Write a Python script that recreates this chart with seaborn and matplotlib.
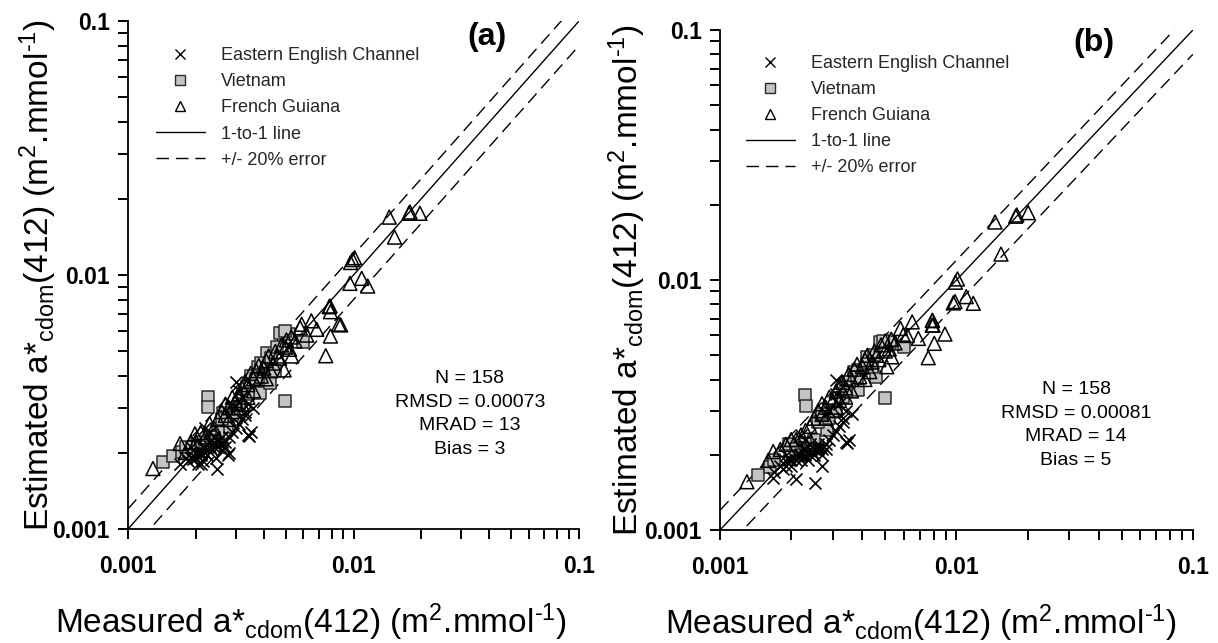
import numpy as np
import matplotlib
matplotlib.use('Agg')
import matplotlib.pyplot as plt
from matplotlib.lines import Line2D
from matplotlib.ticker import LogLocator, NullFormatter
import seaborn as sns

sns.set_theme(style='ticks')
plt.rcParams['font.family'] = ['Liberation Sans', 'DejaVu Sans']
plt.rcParams['mathtext.fontset'] = 'custom'
plt.rcParams['mathtext.rm'] = 'Liberation Sans'
plt.rcParams['mathtext.it'] = 'Liberation Sans:italic'
plt.rcParams['mathtext.bf'] = 'Liberation Sans:bold'

eec_a = [(0.00185, 0.00185), (0.0019, 0.0019), (0.00195, 0.00188), (0.002, 0.0019), (0.002, 0.00198),
         (0.00205, 0.0018), (0.0021, 0.00195), (0.0021, 0.002), (0.00215, 0.0021), (0.0022, 0.002),
         (0.0022, 0.0021), (0.00225, 0.00195), (0.0023, 0.0021), (0.0023, 0.0022), (0.00235, 0.00205),
         (0.0024, 0.0021), (0.0024, 0.0022), (0.00245, 0.0019), (0.0025, 0.0021), (0.0025, 0.0022),
         (0.0026, 0.0022), (0.0026, 0.00205), (0.0027, 0.0021), (0.0027, 0.0022), (0.0028, 0.002),
         (0.0028, 0.0023), (0.00215, 0.00185), (0.0021, 0.0018), (0.00247, 0.00173), (0.00278, 0.00196),
         (0.0029, 0.0024), (0.003, 0.0025), (0.0031, 0.0026), (0.0032, 0.0027), (0.0033, 0.0028),
         (0.0034, 0.00235), (0.00345, 0.00232), (0.0035, 0.0024), (0.0033, 0.0029), (0.0029, 0.0031),
         (0.003, 0.0038), (0.0031, 0.0035), (0.0032, 0.0033), (0.0034, 0.0031), (0.0036, 0.003),
         (0.0023, 0.0024), (0.0022, 0.0025), (0.0019, 0.0021), (0.0017, 0.0018), (0.0018, 0.0019),
         (0.0026, 0.0023), (0.0024, 0.0023)]

vn_a = [(0.00143, 0.00184), (0.00159, 0.00193), (0.00173, 0.00201), (0.00202, 0.00217), (0.0018, 0.0021),
        (0.0021, 0.0022), (0.00226, 0.00332), (0.00227, 0.00301), (0.00265, 0.00285), (0.00274, 0.00253),
        (0.0025, 0.0024), (0.0023, 0.0023), (0.00336, 0.00363), (0.00378, 0.00436), (0.00385, 0.00343),
        (0.00412, 0.00492), (0.00427, 0.00376), (0.0045, 0.0042), (0.00472, 0.00589), (0.00519, 0.00585),
        (0.00495, 0.006), (0.00596, 0.00547), (0.00497, 0.0032), (0.0039, 0.0045), (0.0035, 0.004),
        (0.0037, 0.0039), (0.0043, 0.0047), (0.0046, 0.0052), (0.0029, 0.0028), (0.0031, 0.0031),
        (0.0024, 0.0022), (0.0022, 0.0021), (0.0026, 0.0027), (0.0034, 0.0034)]

fg_a = [(0.00129, 0.00173), (0.0017, 0.00217), (0.00198, 0.00237), (0.0019, 0.0022), (0.0021, 0.0024),
        (0.0022, 0.0023), (0.0023, 0.0026), (0.0025, 0.0027), (0.0026, 0.0029), (0.0027, 0.0028),
        (0.0028, 0.003), (0.0029, 0.0033), (0.003, 0.0032), (0.0031, 0.0034), (0.0032, 0.0036),
        (0.0033, 0.0038), (0.0034, 0.0037), (0.0035, 0.0041), (0.0036, 0.0039), (0.0037, 0.0042),
        (0.0038, 0.0044), (0.004, 0.0043), (0.0041, 0.0046), (0.0042, 0.0048), (0.0044, 0.0045),
        (0.0045, 0.005), (0.0046, 0.0048), (0.0048, 0.0053), (0.005, 0.0052), (0.00504, 0.00555),
        (0.00492, 0.00423), (0.00532, 0.0048), (0.0053, 0.0057), (0.0055, 0.0055), (0.00589, 0.0064),
        (0.00687, 0.00611), (0.00753, 0.00481), (0.0079, 0.00575), (0.00877, 0.00636), (0.0086, 0.0064),
        (0.0079, 0.00717), (0.00787, 0.00755), (0.0078, 0.0075), (0.00964, 0.00927), (0.01087, 0.0097),
        (0.01156, 0.00905), (0.0099, 0.0115), (0.0101, 0.0117), (0.0097, 0.0112), (0.0152, 0.0141),
        (0.0144, 0.0169), (0.0176, 0.0175), (0.0178, 0.0177), (0.0197, 0.0175), (0.0027, 0.0031),
        (0.0031, 0.003), (0.0034, 0.0033), (0.0039, 0.004), (0.0043, 0.0042), (0.0047, 0.0047),
        (0.0028, 0.0027), (0.0024, 0.0025), (0.002, 0.0022), (0.0018, 0.002), (0.0036, 0.0035),
        (0.0032, 0.0031), (0.003, 0.0029), (0.0041, 0.0039), (0.0052, 0.0051), (0.0062, 0.0058),
        (0.0058, 0.0062), (0.0065, 0.0066)]

eec_b = [(0.00168, 0.00162), (0.0018, 0.0018), (0.00185, 0.00175), (0.0019, 0.0018), (0.0019, 0.00188),
         (0.00195, 0.0019), (0.002, 0.0018), (0.002, 0.0019), (0.0021, 0.0019), (0.0021, 0.002),
         (0.00215, 0.002), (0.0022, 0.0019), (0.0022, 0.002), (0.00225, 0.0021), (0.0023, 0.002),
         (0.0023, 0.0021), (0.00235, 0.0019), (0.0024, 0.002), (0.0024, 0.0021), (0.00245, 0.00205),
         (0.0025, 0.002), (0.0025, 0.0021), (0.0026, 0.0021), (0.0026, 0.00215), (0.0027, 0.002),
         (0.0027, 0.0021), (0.0028, 0.0021), (0.0028, 0.0022), (0.0021, 0.0016), (0.00252, 0.00154),
         (0.0027, 0.0018), (0.0029, 0.0023), (0.003, 0.0024), (0.0031, 0.0025), (0.0032, 0.0026),
         (0.0033, 0.0027), (0.0034, 0.00225), (0.00345, 0.00222), (0.0035, 0.0023), (0.0033, 0.0028),
         (0.0029, 0.003), (0.00311, 0.00398), (0.0031, 0.0035), (0.0032, 0.0032), (0.0034, 0.003),
         (0.0036, 0.0029), (0.0023, 0.0023), (0.0022, 0.0024), (0.0019, 0.002), (0.0017, 0.0017),
         (0.0026, 0.0022), (0.0024, 0.0022)]

vn_b = [(0.00145, 0.00166), (0.00162, 0.00179), (0.0017, 0.0019), (0.00195, 0.0022), (0.00214, 0.002),
        (0.0021, 0.0021), (0.00229, 0.00347), (0.00231, 0.00314), (0.00283, 0.00251), (0.0026, 0.0027),
        (0.0025, 0.0023), (0.0023, 0.0022), (0.0033, 0.0034), (0.00384, 0.00437), (0.00385, 0.00363),
        (0.00417, 0.00493), (0.00457, 0.00411), (0.0044, 0.0045), (0.00475, 0.00567), (0.00523, 0.00567),
        (0.0049, 0.0057), (0.006, 0.00538), (0.00498, 0.00336), (0.0037, 0.0043), (0.0035, 0.0039),
        (0.0038, 0.0041), (0.0042, 0.0046), (0.0045, 0.005), (0.0029, 0.0028), (0.0031, 0.003),
        (0.0024, 0.0021), (0.0022, 0.002), (0.0027, 0.0029), (0.0034, 0.0036)]

fg_b = [(0.0013, 0.00156), (0.00168, 0.00206), (0.0019, 0.0022), (0.0018, 0.0021), (0.002, 0.0023),
        (0.0022, 0.0024), (0.0023, 0.0025), (0.0025, 0.0028), (0.0026, 0.003), (0.0027, 0.0029),
        (0.0028, 0.0031), (0.0029, 0.0034), (0.003, 0.0033), (0.0031, 0.0036), (0.0032, 0.0038),
        (0.0033, 0.0039), (0.0034, 0.0037), (0.0035, 0.0042), (0.0036, 0.004), (0.0037, 0.0044),
        (0.0038, 0.0046), (0.004, 0.0045), (0.0041, 0.0048), (0.0042, 0.005), (0.0044, 0.0047),
        (0.0045, 0.0052), (0.0046, 0.005), (0.0048, 0.0055), (0.005, 0.0052), (0.005, 0.0057),
        (0.00507, 0.0045), (0.00532, 0.00493), (0.0053, 0.0058), (0.0055, 0.0056), (0.00596, 0.00603),
        (0.0069, 0.00584), (0.0076, 0.00489), (0.00806, 0.00558), (0.00894, 0.00608), (0.0079, 0.0066),
        (0.00796, 0.0066), (0.00793, 0.00688), (0.0079, 0.0069), (0.00986, 0.0082), (0.011, 0.00858),
        (0.01178, 0.00807), (0.0101, 0.0101), (0.0099, 0.0098), (0.0097, 0.0081), (0.01543, 0.0127),
        (0.01456, 0.01706), (0.018, 0.0182), (0.0178, 0.018), (0.0201, 0.0186), (0.0027, 0.0032),
        (0.0031, 0.0031), (0.0034, 0.0034), (0.0039, 0.0041), (0.0043, 0.0043), (0.0047, 0.0048),
        (0.0028, 0.0028), (0.0024, 0.0026), (0.0021, 0.0023), (0.0016, 0.0019), (0.0036, 0.0036),
        (0.0032, 0.0033), (0.003, 0.003), (0.0041, 0.004), (0.0052, 0.0053), (0.0062, 0.006),
        (0.0058, 0.0064), (0.0065, 0.0068)]

stats_a = 'N = 158\nRMSD = 0.00073\nMRAD = 13\nBias = 3'
stats_b = 'N = 158\nRMSD = 0.00081\nMRAD = 14\nBias = 5'

axis_range = [0.001, 0.1]
tick_vals = [0.001, 0.01, 0.1]
tick_labels = ['0.001', '0.01', '0.1']
err = 0.2

legend_names = ['Eastern English Channel', 'Vietnam', 'French Guiana', '1-to-1 line', '+/- 20% error']
xlab = r'Measured a*$_{\mathrm{cdom}}$(412) (m$^{2}$.mmol$^{\text{-1}}$)'
ylab = r'Estimated a*$_{\mathrm{cdom}}$(412) (m$^{2}$.mmol$^{\text{-1}}$)'


def panel(ax, eec, vn, fg, stats, tag, leg_xy, stats_xy, tag_xy, xlab_xy, ylab_x):
    line_x = np.array(axis_range)
    sns.lineplot(x=line_x, y=line_x, ax=ax, color='black', lw=1.0)
    sns.lineplot(x=line_x, y=line_x * (1 + err), ax=ax, color='black', lw=1.0, dashes=(9, 5))
    sns.lineplot(x=line_x, y=line_x * (1 - err), ax=ax, color='black', lw=1.0, dashes=(9, 5))

    vx, vy = zip(*vn)
    sns.scatterplot(x=vx, y=vy, ax=ax, marker='s', s=75, color='#c4c4c4',
                    edgecolor='#2a2a2a', linewidth=1.1, zorder=3)
    fx, fy = zip(*fg)
    sns.scatterplot(x=fx, y=fy, ax=ax, marker='^', s=100, color='black',
                    facecolor='none', edgecolor='black', linewidth=1.1, zorder=4)
    ex, ey = zip(*eec)
    sns.scatterplot(x=ex, y=ey, ax=ax, marker='x', s=75, color='black',
                    linewidth=1.2, zorder=5)

    ax.set_xscale('log')
    ax.set_yscale('log')
    ax.set_xlim(axis_range)
    ax.set_ylim(axis_range)
    ax.set_xticks(tick_vals, tick_labels)
    ax.set_yticks(tick_vals, tick_labels)
    for a in (ax.xaxis, ax.yaxis):
        a.set_minor_locator(LogLocator(base=10, subs=np.arange(2, 10)))
        a.set_minor_formatter(NullFormatter())
    ax.tick_params(which='both', direction='out', length=7, width=1.4, color='black',
                   labelsize=16.5, labelcolor='black')
    ax.tick_params(axis='x', pad=12)
    ax.tick_params(axis='y', pad=6)
    for t in ax.get_xticklabels() + ax.get_yticklabels():
        t.set_fontweight('bold')
    sns.despine(ax=ax)
    for sp in ('left', 'bottom'):
        ax.spines[sp].set_color('black')
        ax.spines[sp].set_linewidth(1.3)

    ax.set_xlabel(xlab, fontsize=24, color='black', va='center')
    ax.xaxis.set_label_coords(*xlab_xy)
    ax.set_ylabel(ylab, fontsize=24, color='black', va='center')
    ax.yaxis.set_label_coords(ylab_x, 0.5)

    handles = [
        Line2D([], [], ls='none', marker='x', color='black', markersize=7.5, mew=1.0),
        Line2D([], [], ls='none', marker='s', markerfacecolor='#c4c4c4',
               markeredgecolor='#2a2a2a', markersize=7, mew=1.0),
        Line2D([], [], ls='none', marker='^', markerfacecolor='none',
               markeredgecolor='black', markersize=7.5, mew=1.0),
        Line2D([], [], color='black', lw=1.0),
        Line2D([], [], color='black', lw=1.0, dashes=(9, 5)),
    ]
    ax.legend(handles, legend_names, loc='upper left', bbox_to_anchor=leg_xy, frameon=False,
              fontsize=13, handlelength=2.7, handletextpad=0.9, labelspacing=0.5,
              borderpad=0, borderaxespad=0)

    ax.text(*stats_xy, stats, transform=ax.transAxes, ha='center', va='center',
            fontsize=14, linespacing=1.5, color='black')
    ax.text(*tag_xy, tag, transform=ax.transAxes, ha='center', va='center',
            fontsize=23, fontweight='bold', color='black')


fig = plt.figure(figsize=(12.18, 6.43), dpi=100)
ax1 = fig.add_axes([0.1051, 0.1773, 0.3703, 0.7900])
ax2 = fig.add_axes([0.5911, 0.1757, 0.3883, 0.7776])

panel(ax1, eec_a, vn_a, fg_a, stats_a, '(a)', (0.062, 0.948), (0.758, 0.226),
      (0.796, 0.969), (0.406, -0.183), -0.2)
panel(ax2, eec_b, vn_b, fg_b, stats_b, '(b)', (0.055, 0.95), (0.753, 0.21),
      (0.79, 0.974), (0.424, -0.186), -0.195)

fig.savefig('out.png', dpi=100)
